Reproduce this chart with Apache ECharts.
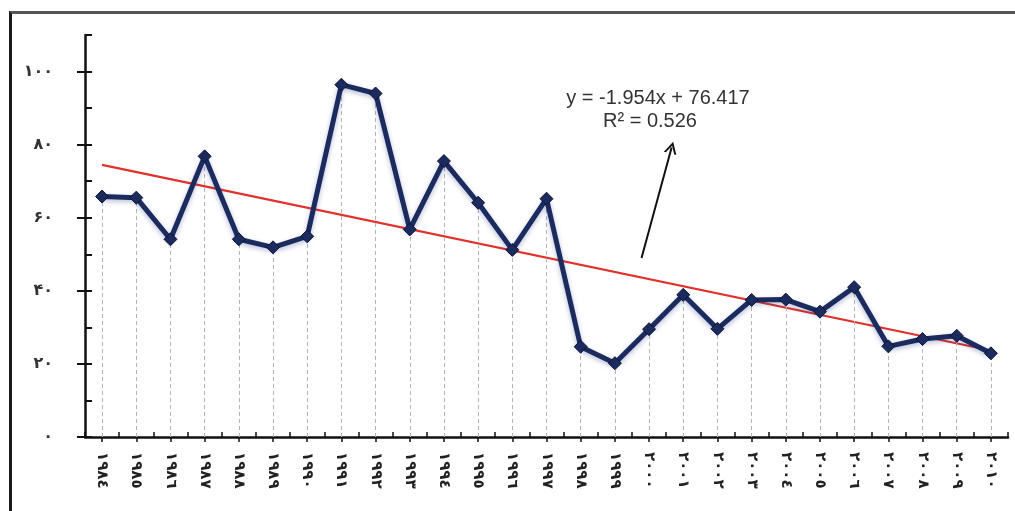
<!DOCTYPE html>
<html>
<head>
<meta charset="utf-8">
<script src="https://cdn.jsdelivr.net/npm/echarts@6/dist/echarts.min.js"></script>
<style>
  html, body { margin: 0; padding: 0; background: #fff; }
  #wrap { position: relative; width: 1015px; height: 511px; overflow: hidden; }
  #frame { position: absolute; left: 9px; top: 11px; width: 1020px; height: 520px;
           border-left: 3px solid #1a1a1a; border-top: 3px solid #555; box-sizing: border-box; }
  #chart { position: absolute; left: 0; top: 0; width: 1015px; height: 511px; }
</style>
</head>
<body>
<div id="wrap">
  <div id="frame"></div>
  <div id="chart"></div>
</div>
<script>
// Categories (years, Arabic-Indic digits as in the reference)
const years = ['١٩٨٤','١٩٨٥','١٩٨٦','١٩٨٧','١٩٨٨','١٩٨٩','١٩٩٠','١٩٩١','١٩٩٢','١٩٩٣','١٩٩٤','١٩٩٥','١٩٩٦','١٩٩٧','١٩٩٨','١٩٩٩','٢٠٠٠','٢٠٠١','٢٠٠٢','٢٠٠٣','٢٠٠٤','٢٠٠٥','٢٠٠٦','٢٠٠٧','٢٠٠٨','٢٠٠٩','٢٠١٠'];
// Series values
const values = [65.8,65.5,54.1,76.8,54.1,51.9,54.9,96.4,94.0,56.8,75.5,64.1,51.2,65.2,24.7,20.2,29.5,38.9,29.6,37.5,37.6,34.3,41.0,24.8,26.8,27.7,22.9];
// Y tick values and labels
const yTickValues = [0,20,40,60,80,100];
const yTickLabels = ['٠','٢٠','۴٠','۶٠','٨٠','١٠٠'];
// Trend line (from the annotation)
const trendSlope = -1.954;
const trendIntercept = 76.417;
const trendText = ['y = -1.954x + 76.417', 'R² = 0.526'];
// Arrow annotation endpoints in data units [category position, value]
const arrowFrom = [15.78, 49.0];
const arrowTo = [16.66, 79.2];

const n = years.length;
const trendPts = [[0, trendIntercept + trendSlope * 1], [n - 1, trendIntercept + trendSlope * n]];
const dropLines = values.map((v, i) => [{coord: [years[i], 0]}, {coord: [years[i], v]}]);

const chart = echarts.init(document.getElementById('chart'), null, {renderer: 'canvas'});
const option = {
  backgroundColor: 'transparent',
  animation: false,
  grid: {left: 85, right: 7, top: 35, bottom: 74, containLabel: false},
  xAxis: [
    {
      type: 'category', data: years, boundaryGap: true, position: 'bottom',
      axisLine: {onZero: false, lineStyle: {color: '#111', width: 2.5}},
      axisTick: {show: true, alignWithLabel: true, length: 5, lineStyle: {color: '#111', width: 1.5}},
      axisLabel: {interval: 0, rotate: -90, margin: 15, fontSize: 15, fontWeight: 'bold',
                  color: '#222', fontFamily: 'DejaVu Sans'},
      splitLine: {show: false}
    },
    {
      type: 'value', min: -0.5, max: n - 0.5, position: 'bottom', show: true,
      axisLine: {show: false, onZero: false},
      axisTick: {show: true, inside: true, length: 5, lineStyle: {color: '#111', width: 1.5}},
      axisLabel: {show: false}, splitLine: {show: false}, interval: 1
    }
  ],
  yAxis: [
    {
      type: 'value', min: 0, max: 110, interval: 20, position: 'left',
      axisLine: {show: true, onZero: false, lineStyle: {color: '#111', width: 2.5}},
      axisTick: {show: true, length: 8, customValues: yTickValues, lineStyle: {color: '#111', width: 2}},
      axisLabel: {margin: 32, fontSize: 16, fontWeight: 'bold', color: '#333', fontFamily: 'DejaVu Sans',
                  customValues: yTickValues,
                  formatter: v => { const k = yTickValues.indexOf(v); return k >= 0 ? yTickLabels[k] : ''; }},
      splitLine: {show: false}
    },
    {
      type: 'value', min: 0, max: 110, interval: 10, position: 'left',
      axisLine: {show: false, onZero: false},
      axisTick: {show: true, inside: true, length: 7, lineStyle: {color: '#111', width: 2}},
      axisLabel: {show: false}, splitLine: {show: false}
    }
  ],
  graphic: [
    {type: 'text', x: 658, y: 98, z: 10,
     style: {text: trendText[0], fontSize: 20, fontFamily: 'Liberation Sans', fill: '#333',
             align: 'center', verticalAlign: 'middle'}},
    {type: 'text', x: 650, y: 121, z: 10,
     style: {text: trendText[1], fontSize: 20, fontFamily: 'Liberation Sans', fill: '#333',
             align: 'center', verticalAlign: 'middle'}}
  ],
  series: [
    {
      name: 'drop', type: 'line', xAxisIndex: 0, yAxisIndex: 0, data: [], z: 1, silent: true,
      markLine: {silent: true, symbol: ['none', 'none'], label: {show: false},
                 lineStyle: {color: '#b5b5b5', width: 1, type: [4, 3]}, data: dropLines}
    },
    {
      name: 'trend', type: 'line', xAxisIndex: 1, yAxisIndex: 0, data: trendPts, z: 3,
      symbol: 'none', lineStyle: {color: '#e2302b', width: 2.2}, silent: true
    },
    {
      name: 'values', type: 'line', xAxisIndex: 0, yAxisIndex: 0, data: values, z: 5,
      symbol: 'diamond', symbolSize: 13,
      lineStyle: {color: '#1c2b5e', width: 5, shadowColor: 'rgba(40,60,140,0.35)', shadowBlur: 5, shadowOffsetY: 2},
      itemStyle: {color: '#1c2b5e', borderColor: '#0d1536', borderWidth: 1}
    },
    {
      name: 'arrow', type: 'line', xAxisIndex: 1, yAxisIndex: 0, data: [], z: 6, silent: true,
      markLine: {silent: true, symbol: ['none', 'path://M0,12 L6,0 L12,12 L10,12 L6,4 L2,12 Z'],
                 symbolSize: [13, 12], label: {show: false},
                 lineStyle: {color: '#111', width: 2, type: 'solid'},
                 data: [[{coord: arrowFrom}, {coord: arrowTo}]]}
    }
  ]
};
chart.setOption(option);
</script>
</body>
</html>
